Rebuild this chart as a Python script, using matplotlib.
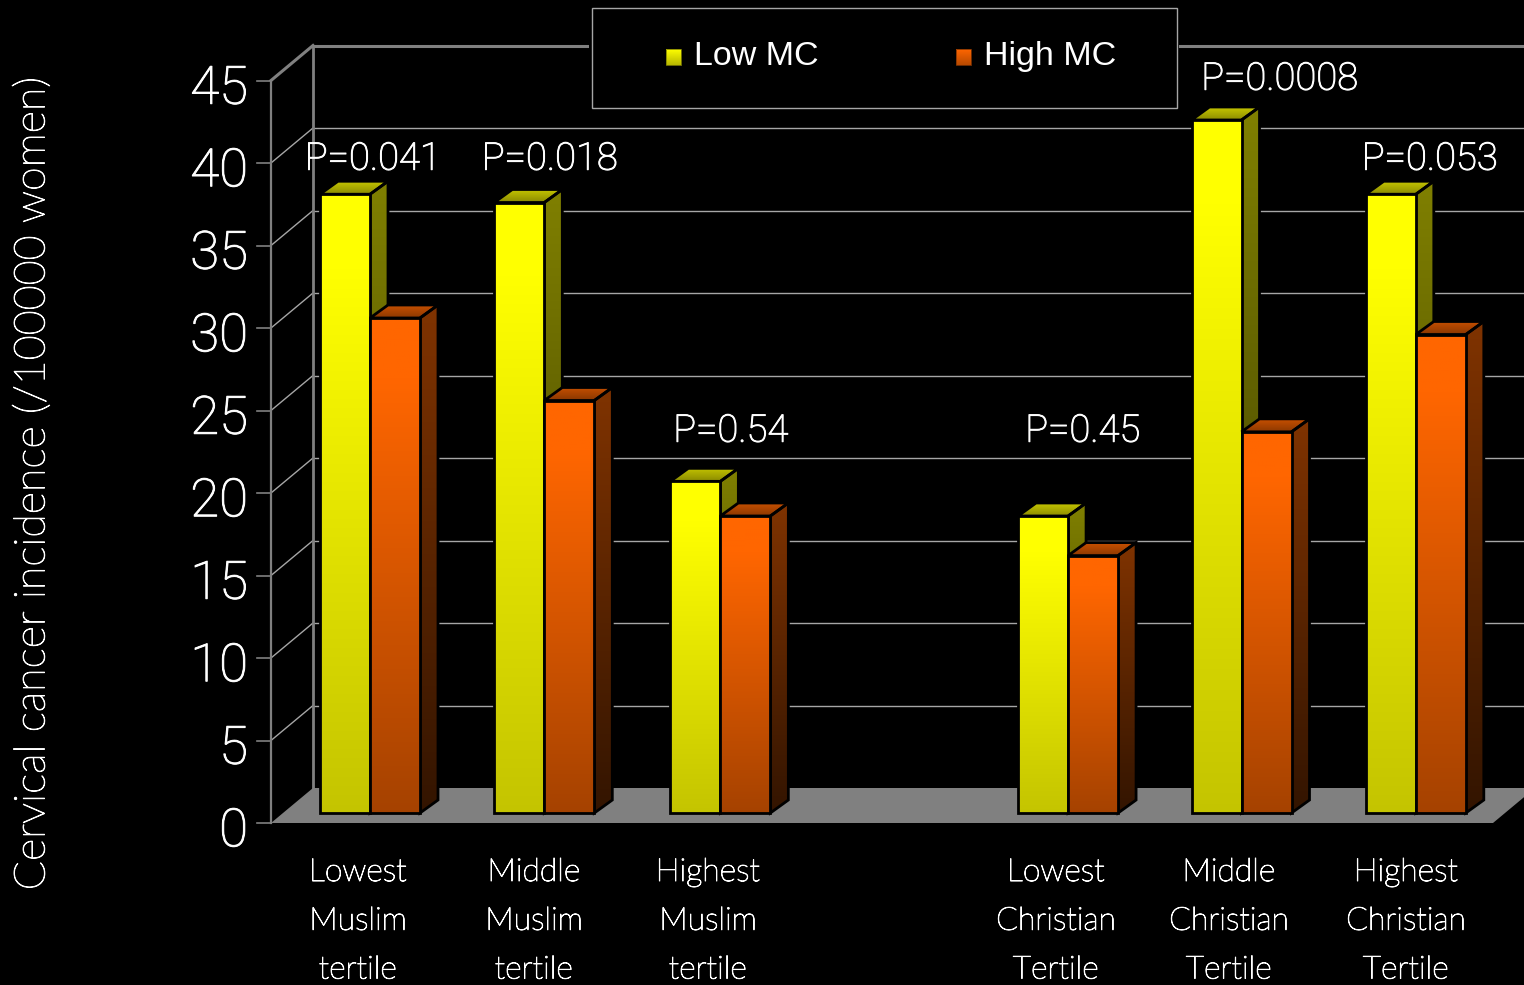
import numpy as np
import matplotlib
matplotlib.use("Agg")
import matplotlib.pyplot as plt
import matplotlib.patheffects as pe
from matplotlib.patches import Polygon, Rectangle

# incidence per 100000 women
group_pos = [0, 1, 2.01, 4.005, 5, 6]
low_mc = [37.5, 37.0, 20.1, 18.0, 42.0, 37.5]
high_mc = [30.0, 25.0, 18.0, 15.6, 23.1, 29.0]
y_ticks = [0, 5, 10, 15, 20, 25, 30, 35, 40, 45]
cat_labels = ["Lowest\nMuslim\ntertile", "Middle\nMuslim\ntertile",
              "Highest\nMuslim\ntertile", "Lowest\nChristian\nTertile",
              "Middle\nChristian\nTertile", "Highest\nChristian\nTertile"]
p_labels = ["P=0.041", "P=0.018", "P=0.54", "P=0.45", "P=0.0008", "P=0.053"]
p_label_x = [373, 550, 731, 1083, 1280, 1430]
p_label_y = [159, 159, 431, 431, 79, 159]
cat_label_x = [358, 534, 708, 1056, 1229, 1406]

W, H = 1524, 985
X0, XU = 370.0, 174.3   # pixel of group 0, pixels per group
Y0, YU = 813.0, 16.5    # pixel of value 0, pixels per unit


def xd(px):
    return (px - X0) / XU


def yd(py):
    return (Y0 - py) / YU


BAR_W = 50 / XU
DX, DY = 18 / XU, 13 / YU      # bar depth
FX, FY = 42 / XU, 35 / YU      # chart depth
FRONT = -10 / YU               # front axis sits below the bar baseline

YEL = (255, 255, 0)
ORG = (255, 102, 0)

# the light faces come out too faint, so fatten them a little
thick = [pe.withStroke(linewidth=0.7, foreground="white")]

fig = plt.figure(figsize=(W / 100, H / 100), dpi=100, facecolor="black")
ax = fig.add_axes([0, 0, 1, 1], facecolor="black")
ax.set_axis_off()


def gradient_poly(verts, c_top, c_bot, z, lw=2.0, ec="black", hold=0.0):
    # polygon filled with a vertical gradient, clipped image inside
    v = np.array(verts)
    t = np.linspace(0, 1, 128)
    t = np.clip((t - hold) / (1 - hold), 0, 1)
    img = np.zeros((128, 1, 3))
    for k in range(3):
        img[:, 0, k] = (c_top[k] + (c_bot[k] - c_top[k]) * t) / 255.0
    im = ax.imshow(img, extent=[v[:, 0].min(), v[:, 0].max(), v[:, 1].min(), v[:, 1].max()],
                   aspect="auto", origin="upper", zorder=z, interpolation="bilinear")
    p = Polygon(verts, closed=True, fc="none", ec=ec, lw=lw, zorder=z + 0.1, joinstyle="miter")
    ax.add_patch(p)
    im.set_clip_path(p)


def bar3d(x, val, col, shade, z):
    # one bar: side face, top face, front face
    r, g, b = col
    l, rt = x, x + BAR_W
    side = [(rt, 0), (rt + DX, DY), (rt + DX, val + DY), (rt, val)]
    top = [(l, val), (rt, val), (rt + DX, val + DY), (l + DX, val + DY)]
    front = [(l, 0), (rt, 0), (rt, val), (l, val)]
    gradient_poly(side, (r * 0.5, g * 0.5, 0), (r * 0.2, g * 0.2, 0), z)
    gradient_poly(top, (r * 0.78, g * 0.78, 0), (r * 0.55, g * 0.55, 0), z)
    gradient_poly(front, col, (r * shade, g * shade, 0), z + 0.2, hold=0.12)


# floor
ax.add_patch(Polygon([(xd(271), FRONT), (xd(1493), FRONT), (xd(1493) + FX, FRONT + FY),
                      (xd(271) + FX, FRONT + FY)], fc="#808080", ec="none", zorder=1))

# back wall grid and the slanted lines to the front axis
x_left = xd(271)
grey = "#a6a6a6"
for v in y_ticks:
    y = v + FRONT
    if v == 0:
        continue
    lw = 2.2 if v == 45 else 1.0
    col = "#808080" if v == 45 else grey
    ax.plot([x_left, x_left + FX], [y, y + FY], color=col, lw=lw, zorder=2)
    ax.plot([x_left + FX, xd(W + 5)], [y + FY, y + FY], color=col, lw=lw, zorder=2)
for v in y_ticks:
    ax.plot([xd(257), x_left], [v + FRONT, v + FRONT], color="#808080", lw=1.2, zorder=2)
    ax.text(xd(248), v + FRONT - 3 / YU, str(v), color="white", fontsize=38, family="Roboto",
            fontweight="light", ha="right", va="center_baseline", zorder=6, path_effects=thick)

ax.plot([x_left, x_left], [FRONT, 45 + FRONT], color="#808080", lw=1.6, zorder=2)
ax.plot([x_left + FX, x_left + FX], [FRONT + FY, 45 + FRONT + FY], color="#808080", lw=2.0, zorder=2)

# bars, left group first so the later ones sit on top
for i, x in enumerate(group_pos):
    bar3d(x - BAR_W, low_mc[i], YEL, 0.77, 3 + i)
    bar3d(x, high_mc[i], ORG, 0.65, 3.5 + i)

# p-values
for i, s in enumerate(p_labels):
    ax.text(xd(p_label_x[i]), yd(p_label_y[i]), s, color="white", fontsize=27.5, family="Roboto",
            fontweight="light", ha="center", va="center", zorder=20, path_effects=thick)

# category labels
for i, s in enumerate(cat_labels):
    ax.text(xd(cat_label_x[i]), yd(858), s, color="white", fontsize=23, family="Lato",
            fontweight="light", ha="center", va="top", linespacing=1.86, zorder=20,
            path_effects=thick)

ax.text(xd(33), yd(484), "Cervical cancer incidence (/100000 women)", color="white", fontsize=31,
        family="Lato", fontweight="light", rotation=90, ha="center", va="center", zorder=20,
        path_effects=thick)

# legend box
ax.add_patch(Rectangle((xd(589), yd(110)), 590 / XU, 104 / YU, fc="black", ec="none", zorder=15))
ax.add_patch(Rectangle((xd(591.5), yd(108)), 585 / XU, 100 / YU, fc="black", ec="#a6a6a6", lw=1.0, zorder=16))
for px, col, name, tx in [(666, YEL, "Low MC", 694), (956, ORG, "High MC", 984)]:
    r, g, b = col
    sq = [(xd(px), yd(65)), (xd(px + 15), yd(65)), (xd(px + 15), yd(49)), (xd(px), yd(49))]
    gradient_poly(sq, col, (r * 0.72, g * 0.72, 0), 17, lw=0.6, ec=(r / 510, g / 510, 0))
    ax.text(xd(tx), yd(53), name, color="white", fontsize=24.5, family="Liberation Sans",
            ha="left", va="center_baseline", zorder=18)

ax.set_xlim(xd(0), xd(W))
ax.set_ylim(yd(H), yd(0))

fig.savefig("out.png", dpi=100, facecolor="black")
